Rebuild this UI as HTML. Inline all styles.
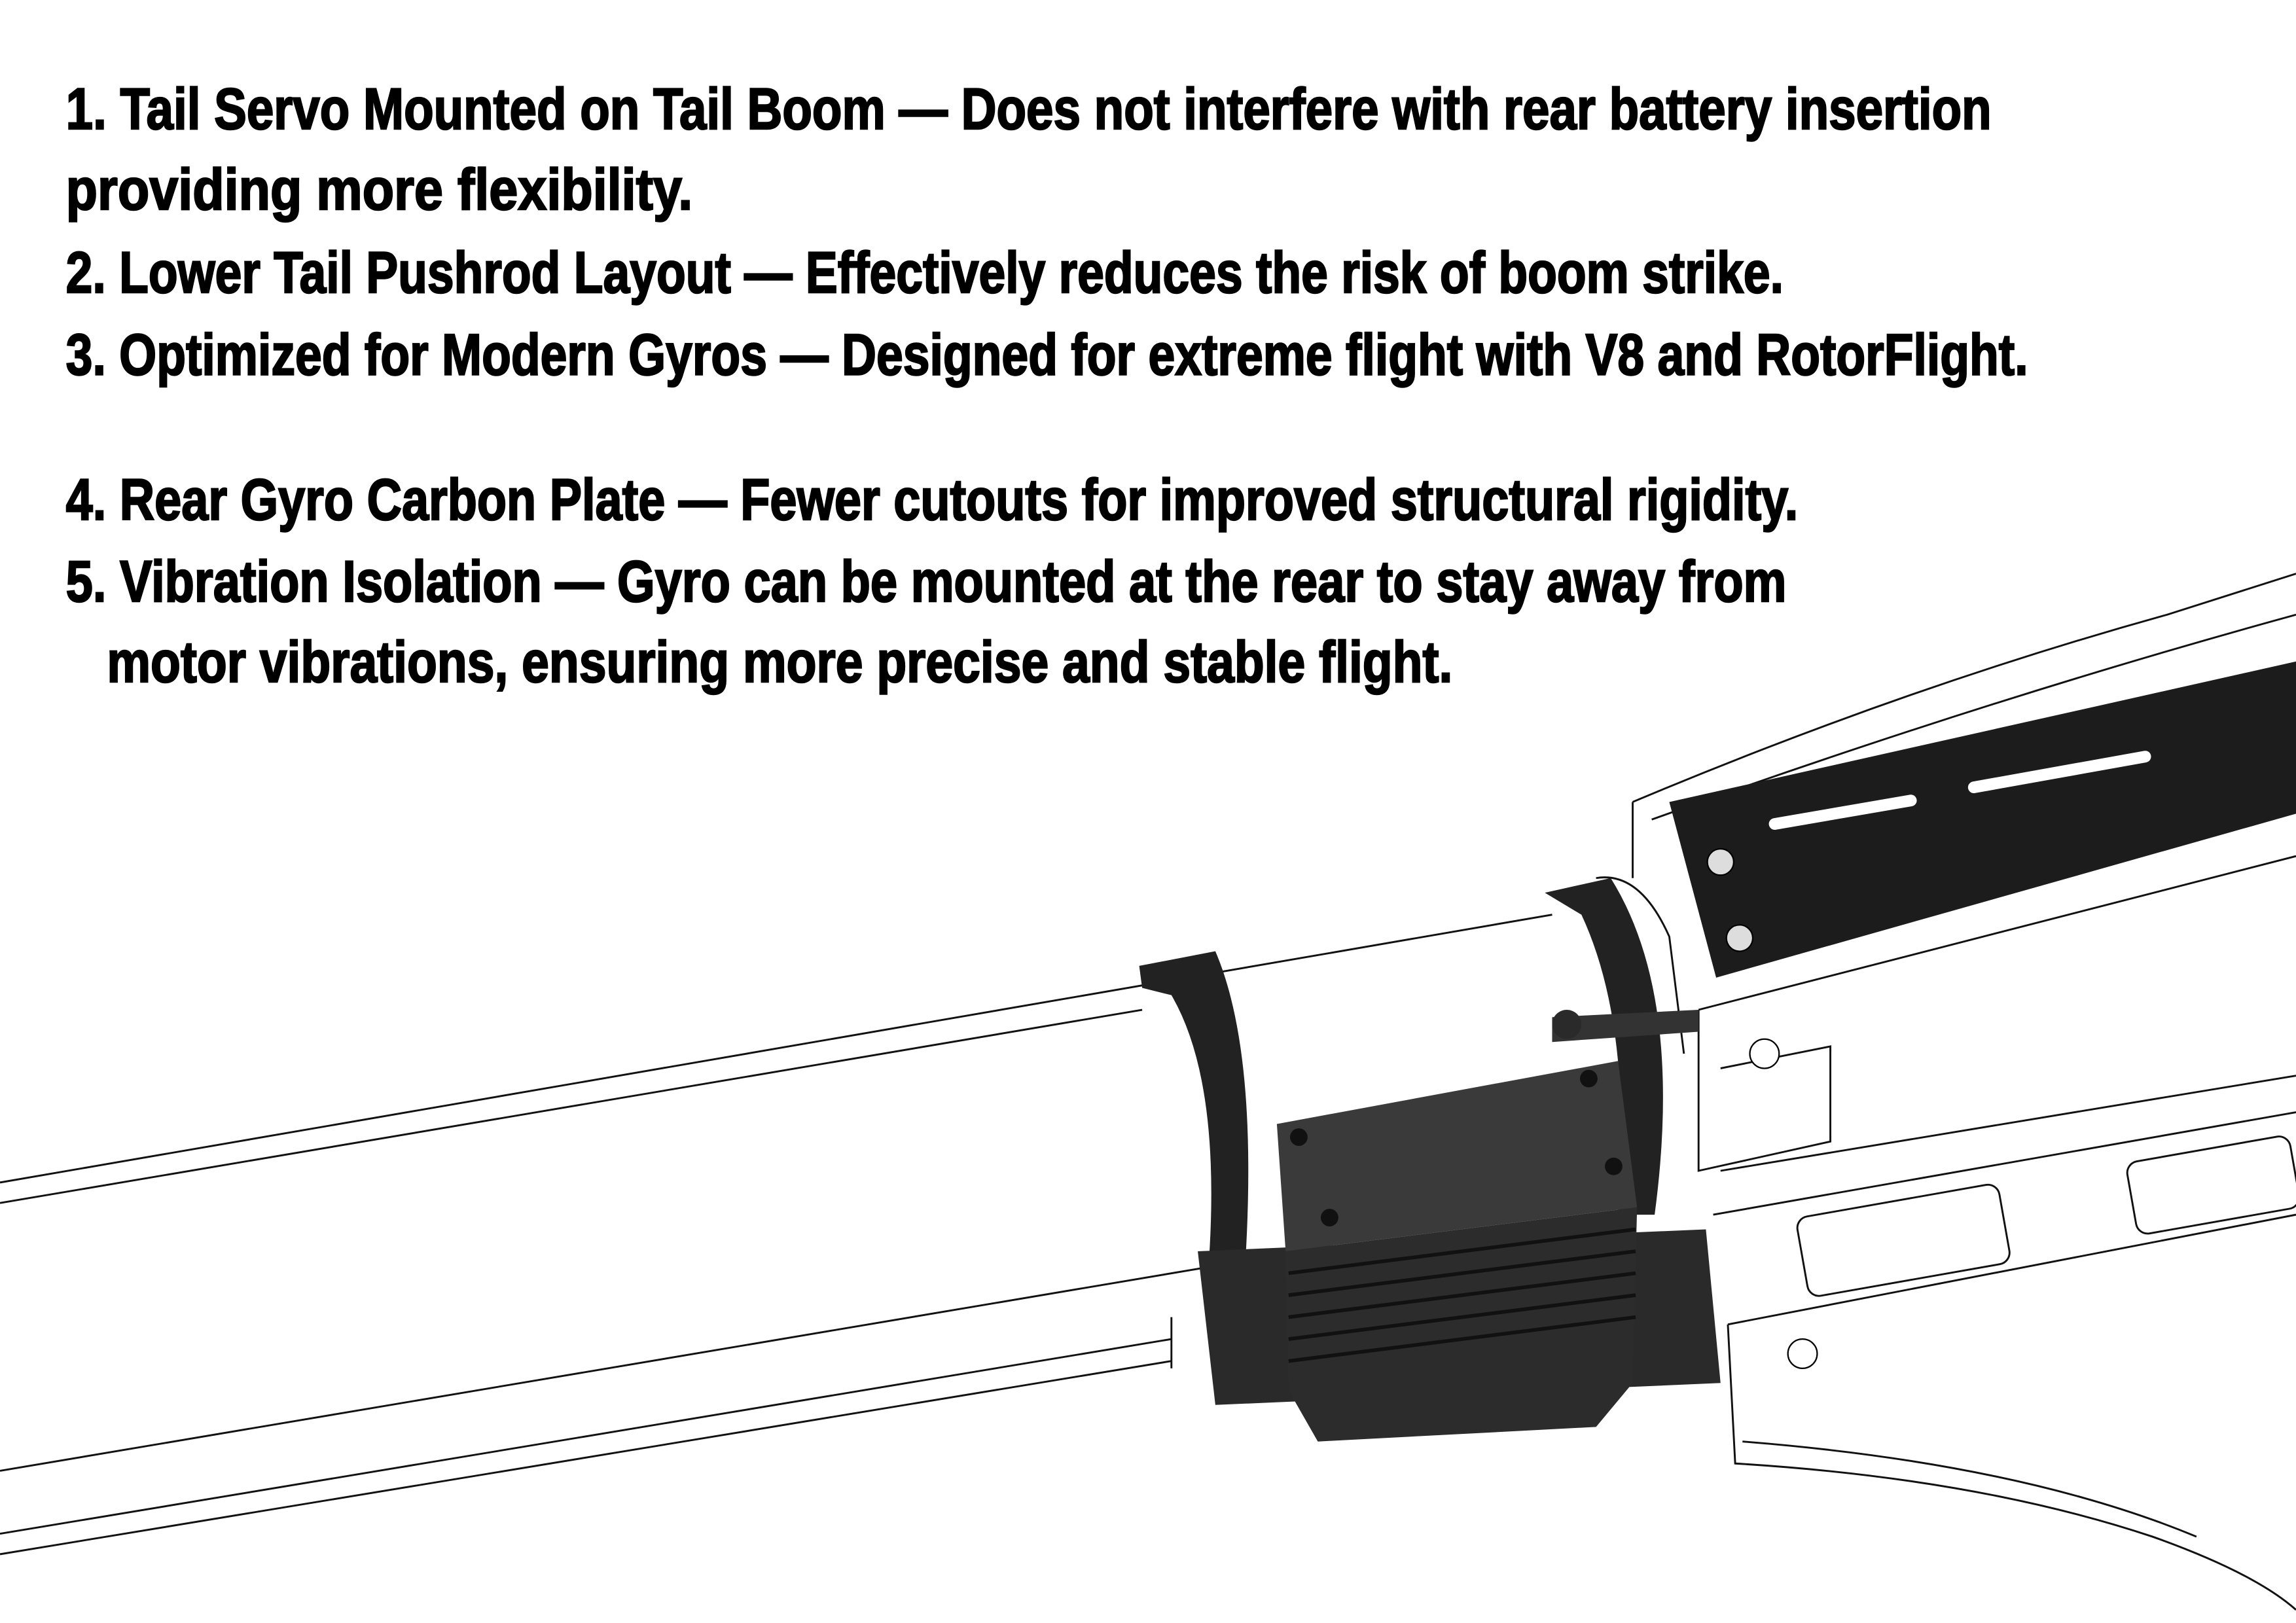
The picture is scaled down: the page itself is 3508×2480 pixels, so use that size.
<!DOCTYPE html>
<html><head><meta charset="utf-8"><style>
html,body{margin:0;padding:0;background:#fff;}
svg{display:block}
</style></head><body>
<svg width="3508" height="2480" viewBox="0 0 1568 1109" preserveAspectRatio="none" xmlns="http://www.w3.org/2000/svg">
<rect width="1568" height="1109" fill="#fff"/>
<g font-family="'Liberation Sans Narrow','Liberation Sans',sans-serif" font-weight="bold" font-size="40" fill="#000" stroke="#000" stroke-width="1.1">
<text x="45" y="88" textLength="1315" lengthAdjust="spacingAndGlyphs">1. Tail Servo Mounted on Tail Boom — Does not interfere with rear battery insertion</text>
<text x="45" y="143" textLength="428" lengthAdjust="spacingAndGlyphs">providing more flexibility.</text>
<text x="45" y="200" textLength="1173" lengthAdjust="spacingAndGlyphs">2. Lower Tail Pushrod Layout — Effectively reduces the risk of boom strike.</text>
<text x="45" y="256" textLength="1340" lengthAdjust="spacingAndGlyphs">3. Optimized for Modern Gyros — Designed for extreme flight with V8 and RotorFlight.</text>
<text x="45" y="355" textLength="1183" lengthAdjust="spacingAndGlyphs">4. Rear Gyro Carbon Plate — Fewer cutouts for improved structural rigidity.</text>
<text x="45" y="411" textLength="1175" lengthAdjust="spacingAndGlyphs">5. Vibration Isolation — Gyro can be mounted at the rear to stay away from</text>
<text x="73" y="466" textLength="919" lengthAdjust="spacingAndGlyphs">motor vibrations, ensuring more precise and stable flight.</text>
</g>
<g fill="none" stroke="#111" stroke-width="1.3">
<path d="M1115 548 L1115 600 M1115 548 Q1300 470 1480 420 L1568 392"/>
<path d="M1128 560 Q1350 480 1568 420"/>
<path d="M1160 690 L1568 585 M1160 690 L1160 800 L1250 780 L1250 715 L1175 730"/>
<path d="M1175 800 L1568 735 M1170 830 L1568 760"/>
<rect x="1230" y="820" width="140" height="55" rx="8" transform="rotate(-10 1300 848)"/>
<rect x="1455" y="785" width="113" height="50" rx="8" transform="rotate(-10 1510 810)"/>
<path d="M1180 905 L1568 830 M1180 905 L1185 1000 Q1350 1010 1470 1050 Q1540 1075 1568 1100"/>
<path d="M1190 985 Q1380 1000 1500 1050"/>
<path d="M0 808 L1060 625"/>
<path d="M0 822 L780 690"/>
<path d="M0 1005 L830 865"/>
<path d="M0 1048 L800 915 M0 1062 L800 930 M800 900 L800 935"/>
<path d="M1090 600 Q1120 595 1140 640 L1150 720"/>
</g>
<path d="M1140 548 L1568 452 L1568 556 L1172 668 Z" fill="#1c1c1c"/>
<g stroke="#fff" stroke-width="8" stroke-linecap="round">
<line x1="1212" y1="563" x2="1305" y2="547"/>
<line x1="1348" y1="538" x2="1465" y2="517"/>
</g>
<circle cx="1175" cy="589" r="9" fill="#ddd" stroke="#000"/>
<circle cx="1188" cy="641" r="9" fill="#ddd" stroke="#000"/>
<circle cx="1205" cy="720" r="10" fill="#fff" stroke="#000"/>
<circle cx="1231" cy="925" r="10" fill="#fff" stroke="#000"/>
<path d="M778 660 L830 650 Q860 720 850 870 L825 870 Q835 740 800 680 L780 675 Z" fill="#222"/>
<path d="M1055 610 L1100 600 Q1150 680 1130 830 L1105 830 Q1115 700 1080 625 Z" fill="#222"/>
<path d="M1060 695 L1160 690 L1160 705 L1060 712 Z" fill="#333"/>
<circle cx="1070" cy="700" r="10" fill="#2a2a2a"/>
<path d="M818 855 L1165 840 L1175 945 L830 960 Z" fill="#2a2a2a"/>
<path d="M872 768 L1105 725 L1118 825 L878 855 Z" fill="#3a3a3a"/>
<path d="M878 855 L1118 825 L1115 945 L1090 975 L900 985 L880 950 Z" fill="#2c2c2c"/>
<g stroke="#111" stroke-width="2.5">
<line x1="880" y1="870" x2="1117" y2="840"/><line x1="880" y1="885" x2="1117" y2="855"/>
<line x1="880" y1="900" x2="1117" y2="870"/><line x1="880" y1="915" x2="1117" y2="885"/>
<line x1="880" y1="930" x2="1117" y2="900"/>
</g>
<g fill="#111"><circle cx="887" cy="777" r="6"/><circle cx="1085" cy="737" r="6"/><circle cx="1102" cy="797" r="6"/><circle cx="908" cy="832" r="6"/></g>
</svg>
</body></html>
